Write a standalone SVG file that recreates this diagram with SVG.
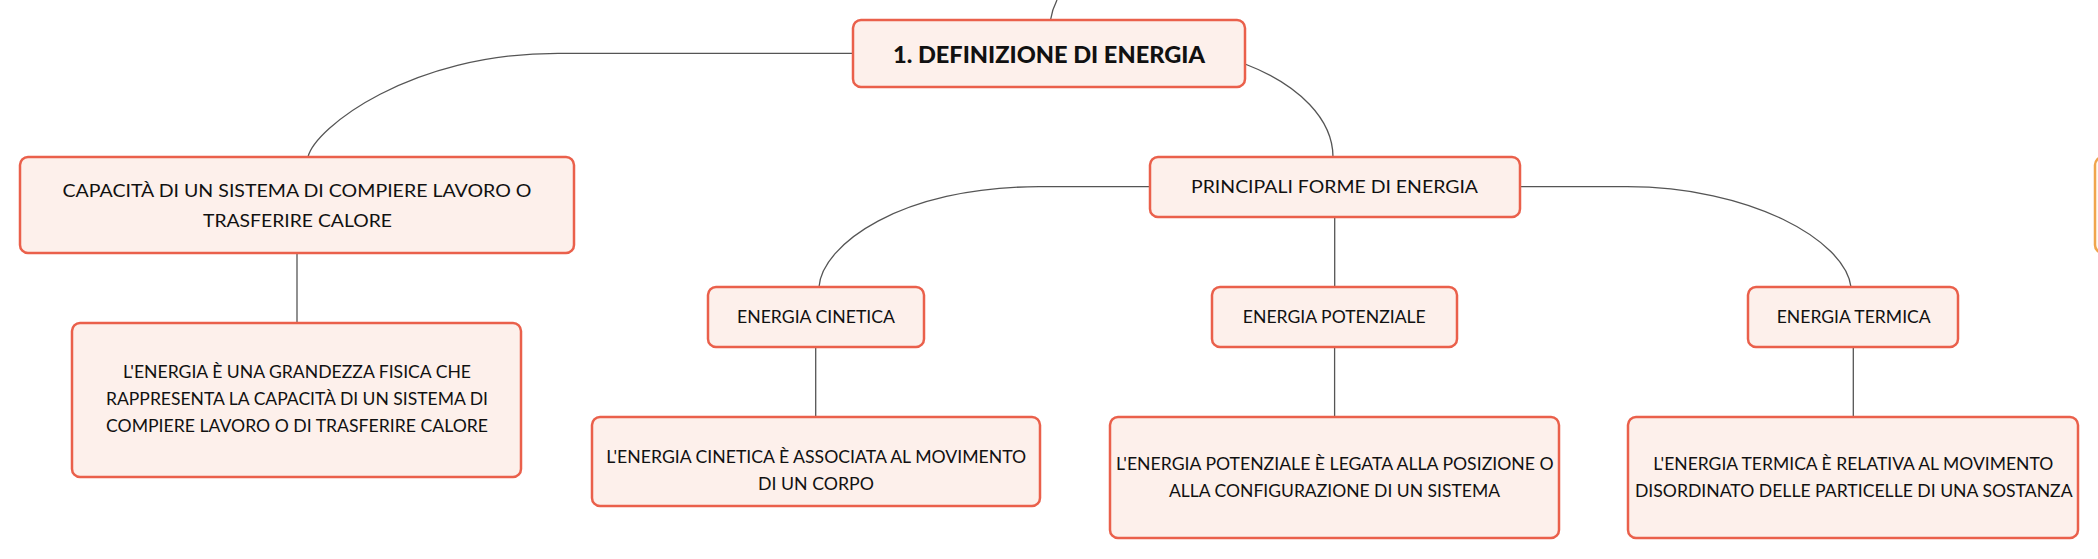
<svg xmlns="http://www.w3.org/2000/svg" width="2098" height="559" viewBox="0 0 2098 559">
<style>
.box{fill:#fdf0eb;stroke:#ea604b;stroke-width:2.5}
.obox{fill:#fffaf3;stroke:#f0a54c;stroke-width:2.5}
.t{font-family:Lato,"Liberation Sans",sans-serif;font-size:18px;fill:#111;text-anchor:middle}
.tb{font-family:Lato,"Liberation Sans",sans-serif;font-size:22px;font-weight:900;fill:#111;text-anchor:middle}
.c{fill:none;stroke:#555;stroke-width:1.3}
</style>
<rect width="2098" height="559" fill="#ffffff"/>
<g id="connectors">
<path class="c" d="M1057,0 Q1052,10 1050.5,20"/>
<path class="c" d="M853,53.3 L558,53.3 C410,53.3 315,128 308,157"/>
<path class="c" d="M1245,64 C1300,85 1333,120 1333,157"/>
<path class="c" d="M1150,186.7 L1039,186.7 C900,186.7 822,245 819,287"/>
<path class="c" d="M1334.7,217 L1334.7,287"/>
<path class="c" d="M1519.6,186.7 L1627,186.7 C1750,186.7 1845,240 1851,287"/>
<path class="c" d="M297,253 L297,323"/>
<path class="c" d="M815.7,347 L815.7,417"/>
<path class="c" d="M1334.6,347 L1334.6,417"/>
<path class="c" d="M1853.3,347 L1853.3,417"/>
</g>
<g id="n-main">
<rect class="box" x="853" y="20" width="392" height="67" rx="8"/>
<text class="tb" x="1049" y="62.5" textLength="312" lengthAdjust="spacingAndGlyphs">1. DEFINIZIONE DI ENERGIA</text>
</g>
<g id="n-capacita">
<rect class="box" x="20" y="157" width="554" height="96" rx="8"/>
<text class="t" x="297" y="197.3" textLength="469" lengthAdjust="spacingAndGlyphs">CAPACITÀ DI UN SISTEMA DI COMPIERE LAVORO O</text>
<text class="t" x="297.5" y="226.5" textLength="189" lengthAdjust="spacingAndGlyphs">TRASFERIRE CALORE</text>
</g>
<g id="n-definizione">
<rect class="box" x="72" y="323" width="449" height="154" rx="8"/>
<text class="t" x="297" y="377.7" textLength="348" lengthAdjust="spacingAndGlyphs">L'ENERGIA È UNA GRANDEZZA FISICA CHE</text>
<text class="t" x="297" y="405" textLength="382" lengthAdjust="spacingAndGlyphs">RAPPRESENTA LA CAPACITÀ DI UN SISTEMA DI</text>
<text class="t" x="297" y="431.7" textLength="382" lengthAdjust="spacingAndGlyphs">COMPIERE LAVORO O DI TRASFERIRE CALORE</text>
</g>
<g id="n-principali">
<rect class="box" x="1150" y="157" width="370" height="60" rx="8"/>
<text class="t" x="1334.5" y="193" textLength="287" lengthAdjust="spacingAndGlyphs">PRINCIPALI FORME DI ENERGIA</text>
</g>
<g id="n-cinetica">
<rect class="box" x="708" y="287" width="216" height="60" rx="8"/>
<text class="t" x="816" y="323.3" textLength="158" lengthAdjust="spacingAndGlyphs">ENERGIA CINETICA</text>
</g>
<g id="n-potenziale">
<rect class="box" x="1212" y="287" width="245" height="60" rx="8"/>
<text class="t" x="1334.3" y="323.3" textLength="183" lengthAdjust="spacingAndGlyphs">ENERGIA POTENZIALE</text>
</g>
<g id="n-termica">
<rect class="box" x="1748" y="287" width="210" height="60" rx="8"/>
<text class="t" x="1853.7" y="323.3" textLength="154" lengthAdjust="spacingAndGlyphs">ENERGIA TERMICA</text>
</g>
<g id="n-cinetica-desc">
<rect class="box" x="592" y="417" width="448" height="89" rx="8"/>
<text class="t" x="816.2" y="463" textLength="420" lengthAdjust="spacingAndGlyphs">L'ENERGIA CINETICA È ASSOCIATA AL MOVIMENTO</text>
<text class="t" x="816" y="489.6" textLength="116" lengthAdjust="spacingAndGlyphs">DI UN CORPO</text>
</g>
<g id="n-potenziale-desc">
<rect class="box" x="1110" y="417" width="449" height="121" rx="8"/>
<text class="t" x="1334.8" y="470.3" textLength="437.6" lengthAdjust="spacingAndGlyphs">L'ENERGIA POTENZIALE È LEGATA ALLA POSIZIONE O</text>
<text class="t" x="1334.5" y="497" textLength="331" lengthAdjust="spacingAndGlyphs">ALLA CONFIGURAZIONE DI UN SISTEMA</text>
</g>
<g id="n-termica-desc">
<rect class="box" x="1628" y="417" width="450" height="121" rx="8"/>
<text class="t" x="1853.3" y="470.3" textLength="400" lengthAdjust="spacingAndGlyphs">L'ENERGIA TERMICA È RELATIVA AL MOVIMENTO</text>
<text class="t" x="1853.8" y="497" textLength="437.7" lengthAdjust="spacingAndGlyphs">DISORDINATO DELLE PARTICELLE DI UNA SOSTANZA</text>
</g>
<g id="n-offscreen">
<rect class="obox" x="2095" y="157" width="60" height="96" rx="8"/>
</g>
</svg>
